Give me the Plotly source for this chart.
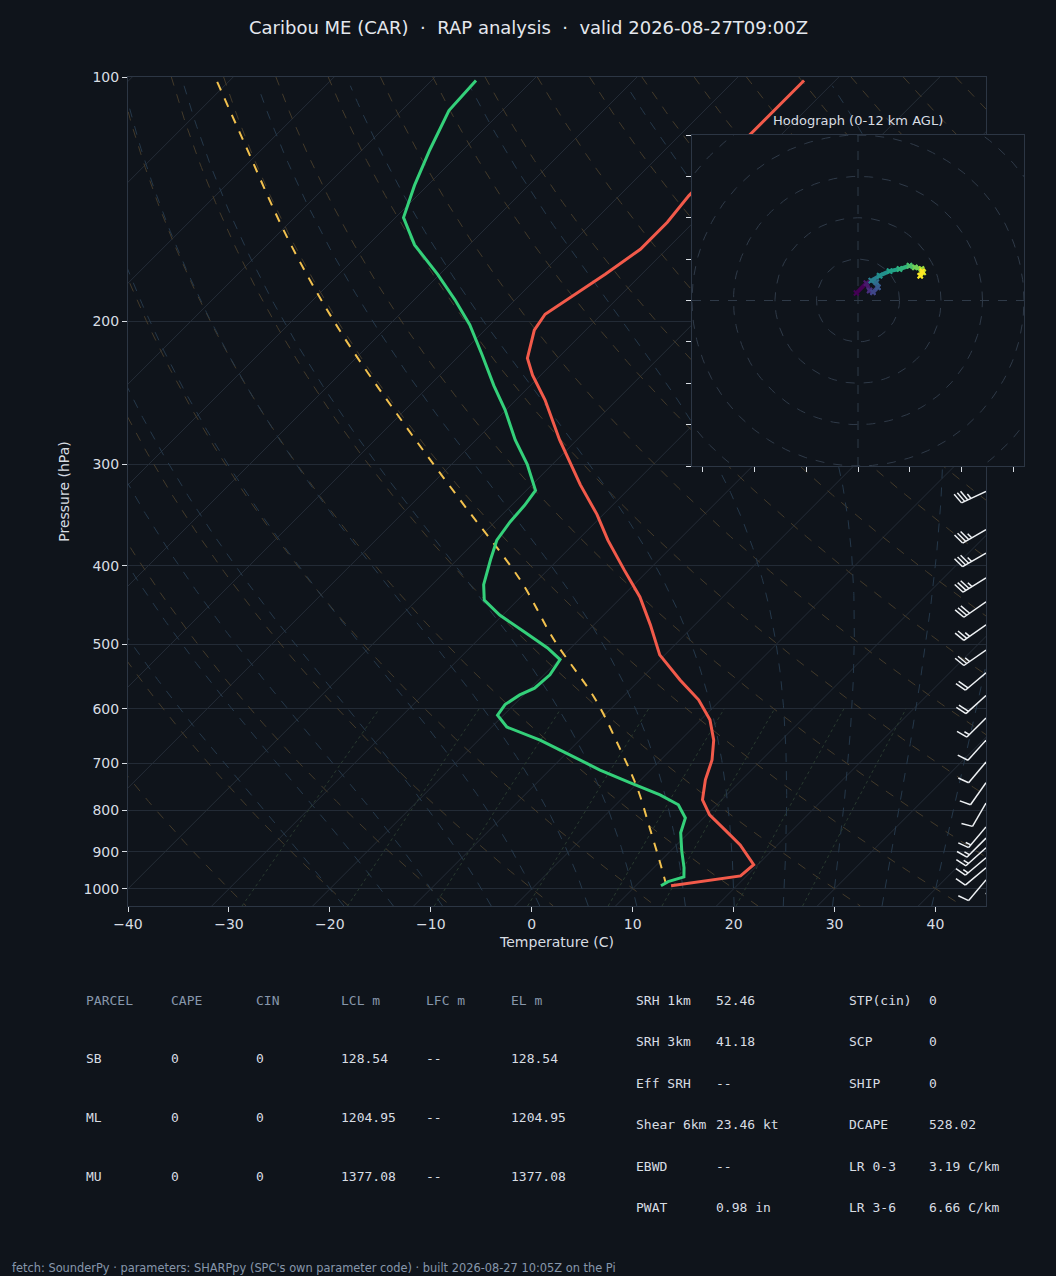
import numpy as np
import plotly.graph_objects as go
from plotly.colors import sample_colorscale

# ---------------- data ----------------
T_P = [101,140,151,163,175,196,205,222,233,250,280,318,346,372,405,437,473,515,553,585,619,656,694,734,777,811,846,883,934,964,991.5]
T_C = [-53.1,-53.1,-52.6,-52.6,-53.6,-55.6,-55.1,-53.0,-50.8,-47.1,-41.7,-35.2,-30.6,-27.0,-22.4,-18.2,-14.4,-10.5,-6.0,-2.2,0.9,3.3,5.1,6.4,8.1,10.3,13.3,16.3,19.6,19.4,13.5]
TD_P = [101,110,123,136,149,161,175,188,202,220,240,257,280,300,323,337,353,372,393,422,441,460,483,505,522,545,566,577,593,611,632,656,684,714,740,766,788,818,853,898,942,967,980,991.5]
TD_C = [-85.6,-85.3,-83.3,-81.3,-79.2,-75.4,-70.2,-66.0,-62.0,-57.8,-53.6,-50.1,-46.1,-42.5,-39.1,-38.7,-38.5,-38.0,-36.7,-34.9,-33.3,-30.3,-26.1,-22.3,-19.9,-19.4,-19.6,-20.4,-20.9,-20.6,-18.5,-13.9,-9.5,-5.0,-0.8,3.4,6.2,8.2,9.2,11.1,13.0,13.9,12.8,12.5]
PARCEL_P = [101.4,120,159,205,264,332,416,494,585,674,755,846,926,986]
PARCEL_C = [-111.1,-102.6,-88.3,-74.4,-59.5,-45.6,-31.8,-22.4,-12.4,-5.0,0.7,5.9,10.0,12.8]
WIND_P = [324,361,386,414,443,473,508,542,578,616,656,698,740,784,839,866,890,916,942,975,1011]
WIND_KT = [35,35,35,35,30,25,25,20,20,15,10,10,10,10,15,15,15,15,10,10,5]
WIND_DIR = [245,240,240,238,235,235,235,230,228,225,222,220,215,210,220,225,228,230,230,220,160]
HODO_U = [-0.4,2.0,2.8,3.6,4.8,4.4,3.2,5.2,7.6,10.0,12.4,13.7,15.3,15.7,15.0,15.5]
HODO_V = [1.8,4.2,2.4,2.0,3.2,4.4,4.8,6.0,7.1,7.6,8.4,8.0,7.6,6.8,6.0,7.1]
P_TICKS = [100,200,300,400,500,600,700,800,900,1000]
T_TICKS = [-40,-30,-20,-10,0,10,20,30,40]
TABLE_HEAD = ["PARCEL","CAPE","CIN","LCL m","LFC m","EL m"]
TABLE_ROWS = [["SB","0","0","128.54","--","128.54"],
              ["ML","0","0","1204.95","--","1204.95"],
              ["MU","0","0","1377.08","--","1377.08"]]
IDX_LEFT = [("SRH 1km","52.46"),("SRH 3km","41.18"),("Eff SRH","--"),("Shear 6km","23.46 kt"),("EBWD","--"),("PWAT","0.98 in")]
IDX_RIGHT = [("STP(cin)","0"),("SCP","0"),("SHIP","0"),("DCAPE","528.02"),("LR 0-3","3.19 C/km"),("LR 3-6","6.66 C/km")]

# ---------------- geometry ----------------
W, H = 1056, 1276
X0, X1, Y0, Y1 = 128, 986, 77, 906
XMIN, XMAX = -40, 45
PMIN, PMAX = 100, 1050
PXX = (X1 - X0) / (XMAX - XMIN)
PXY = (Y1 - Y0) / (np.log10(PMAX) - np.log10(PMIN))
SKEW = PXY / PXX

def skx(t, p):
    return np.asarray(t) + SKEW * np.log10(1000.0 / np.asarray(p))

BG = "#0f141b"
TXT = "#d8dde3"
DIM = "#8797ab"
AX = "#2c3644"

fig = go.Figure()
pp = np.logspace(np.log10(PMIN), np.log10(PMAX), 120)

# isotherms
for t in range(-130, 50, 10):
    fig.add_trace(go.Scatter(x=skx(t, pp), y=pp, mode="lines", line=dict(color="#252d38", width=1),
                             hoverinfo="skip", showlegend=False))
# dry adiabats
for th in range(-30, 231, 10):
    tk = (th + 273.15) * (pp / 1000.0) ** 0.2857 - 273.15
    fig.add_trace(go.Scatter(x=skx(tk, pp), y=pp, mode="lines", line=dict(color="#433a2a", width=1, dash="dash"),
                             hoverinfo="skip", showlegend=False))
# moist adiabats
def es(tc):
    return 6.112 * np.exp(17.67 * tc / (tc + 243.5))
def dtdp(T, p):
    e = es(T - 273.15)
    rs = 0.622 * e / max(p - e, 1.0)
    return (287 * T + 2.5e6 * rs) / (1005 + 2.5e6 ** 2 * rs * 0.622 / (287 * T ** 2)) / p
for t0 in range(-20, 45, 5):
    T = t0 + 273.15
    pcur = 1000.0
    while pcur < 1050:
        T += dtdp(T, pcur) * 2.5
        pcur += 2.5
    res_p, res_t = [], []
    while pcur > 100:
        res_p.append(pcur); res_t.append(T - 273.15)
        T -= dtdp(T, pcur) * 2.5
        pcur -= 2.5
    fig.add_trace(go.Scatter(x=skx(res_t, res_p), y=res_p, mode="lines", line=dict(color="#25384a", width=1, dash="dash"),
                             hoverinfo="skip", showlegend=False))
# mixing ratio lines
pm = np.linspace(1050, 600, 30)
for w in [0.4, 1, 2, 4, 7, 10, 16, 24]:
    e = pm * (w / 1000) / (0.622 + w / 1000)
    lt = np.log(e / 6.112)
    td = 243.5 * lt / (17.67 - lt)
    fig.add_trace(go.Scatter(x=skx(td, pm), y=pm, mode="lines", line=dict(color="#28392f", width=1, dash="dot"),
                             hoverinfo="skip", showlegend=False))

# profiles
fig.add_trace(go.Scatter(x=skx(PARCEL_C, PARCEL_P), y=PARCEL_P, mode="lines", line=dict(color="#f2c14e", width=2, dash="dash"),
                         line_shape="spline", showlegend=False))
fig.add_trace(go.Scatter(x=skx(T_C, T_P), y=T_P, mode="lines", line=dict(color="#f25a4a", width=3), showlegend=False))
fig.add_trace(go.Scatter(x=skx(TD_C, TD_P), y=TD_P, mode="lines", line=dict(color="#34d07a", width=3), showlegend=False))

# wind barbs
bx, by = [], []
def add_seg(p_base, a, b):
    for (dx, dy) in (a, b):
        bx.append(XMAX + dx / PXX)
        by.append(10 ** (np.log10(p_base) + dy / PXY))
    bx.append(None); by.append(None)
for p, spd, d in zip(WIND_P, WIND_KT, WIND_DIR):
    r = np.radians(d)
    u = np.array([np.sin(r), -np.cos(r)])
    n = np.array([-u[1], u[0]])
    L = 27.0
    add_seg(p, (0, 0), tuple(u * L))
    s = int(round(spd / 5.0)) * 5
    nfull, nhalf = s // 10, (s % 10) // 5
    pos = L
    for i in range(nfull):
        start = u * pos
        add_seg(p, tuple(start), tuple(start + n * 11 + u * 3))
        pos -= 3.5
    if nhalf:
        if nfull == 0:
            pos -= 3.5
        start = u * pos
        add_seg(p, tuple(start), tuple(start + n * 5.5 + u * 1.5))
fig.add_trace(go.Scatter(x=bx, y=by, mode="lines", line=dict(color="#eef1f4", width=1.5), cliponaxis=False,
                         hoverinfo="skip", showlegend=False))

# hodograph
th = np.linspace(0, 2 * np.pi, 200)
for rr in [10, 20, 30, 40, 50, 60]:
    fig.add_trace(go.Scatter(x=rr * np.cos(th), y=rr * np.sin(th), mode="lines", xaxis="x2", yaxis="y2",
                             line=dict(color="#2f3a48", width=1, dash="dash"), hoverinfo="skip", showlegend=False))
fig.add_trace(go.Scatter(x=[-40, 40, None, 0, 0], y=[0, 0, None, -40, 40], mode="lines", xaxis="x2", yaxis="y2",
                         line=dict(color="#2f3a48", width=1, dash="dash"), hoverinfo="skip", showlegend=False))
n = len(HODO_U)
cols = sample_colorscale("Viridis", list(np.linspace(0, 1, n - 1)))
for i in range(n - 1):
    fig.add_trace(go.Scatter(x=HODO_U[i:i + 2], y=HODO_V[i:i + 2], mode="lines+markers", xaxis="x2", yaxis="y2",
                             line=dict(color=cols[i], width=4), marker=dict(color=cols[i], size=5, symbol="x-thin",
                             line=dict(color=cols[i], width=2)), hoverinfo="skip", showlegend=False))

fig.update_layout(
    width=W, height=H, paper_bgcolor=BG, plot_bgcolor=BG,
    margin=dict(l=0, r=0, t=0, b=0, autoexpand=False),
    font=dict(family="DejaVu Sans", color=TXT, size=14),
    xaxis=dict(domain=[X0 / W, X1 / W], range=[XMIN, XMAX], tickvals=T_TICKS, automargin=False,
               ticktext=[("\u2212%d" % -t) if t < 0 else str(t) for t in T_TICKS],
               ticks="outside", ticklen=5, tickcolor=TXT, showgrid=False, zeroline=False,
               showline=True, linecolor=AX, mirror=True, anchor="y",
               title=dict(text="Temperature (C)", font=dict(size=14), standoff=6)),
    yaxis=dict(domain=[1 - Y1 / H, 1 - Y0 / H], type="log", range=[np.log10(PMAX), np.log10(PMIN)], automargin=False,
               tickvals=P_TICKS, ticktext=[str(p) for p in P_TICKS], ticks="outside", ticklen=5, tickcolor=TXT,
               showgrid=True, gridcolor="#232b36", zeroline=False, showline=True, linecolor=AX, mirror=True,
               anchor="x", title=dict(text="Pressure (hPa)", font=dict(size=14), standoff=10)),
    xaxis2=dict(domain=[692 / W, 1024 / W], range=[-40, 40], anchor="y2", showgrid=False, zeroline=False, automargin=False,
                tickvals=[-37.5, -25, -12.5, 0, 12.5, 25, 37.5], showticklabels=False, ticks="outside",
                ticklen=5, tickcolor=TXT, showline=True, linecolor=AX, mirror=True),
    yaxis2=dict(domain=[1 - 466 / H, 1 - 135 / H], range=[-40, 40], anchor="x2", showgrid=False, zeroline=False, automargin=False,
                tickvals=list(range(-40, 41, 10)), showticklabels=False, ticks="outside", ticklen=5,
                tickcolor=TXT, showline=True, linecolor=AX, mirror=True),
)
fig.add_shape(type="rect", xref="paper", yref="paper", x0=692 / W, x1=1024 / W, y0=1 - 466 / H, y1=1 - 135 / H,
              fillcolor=BG, line=dict(width=0), layer="below")

ann = []
def A(x, y, text, color=TXT, size=13, fam="DejaVu Sans Mono", xanchor="left"):
    ann.append(dict(x=x / W, y=1 - y / H, xref="paper", yref="paper", text=text, showarrow=False,
                    xanchor=xanchor, yanchor="middle", font=dict(family=fam, size=size, color=color)))
A(528, 27, "Caribou ME (CAR)  \u00b7  RAP analysis  \u00b7  valid 2026-08-27T09:00Z", size=18, fam="DejaVu Sans", xanchor="center", color="#e4e8ee")
A(858, 120, "Hodograph (0-12 km AGL)", size=13, fam="DejaVu Sans", xanchor="center")
colx = [84, 169, 254, 339, 424, 509]
for x, h in zip(colx, TABLE_HEAD):
    A(x, 1000, h, color=DIM)
for ry, row in zip([1058, 1117, 1176], TABLE_ROWS):
    for x, v in zip(colx, row):
        A(x, ry, v)
for ry, (k, v), (k2, v2) in zip([1000, 1041, 1083, 1124, 1166, 1207], IDX_LEFT, IDX_RIGHT):
    A(634, ry, k); A(714, ry, v); A(847, ry, k2); A(927, ry, v2)
A(10, 1268, "fetch: SounderPy \u00b7 parameters: SHARPpy (SPC's own parameter code) \u00b7 built 2026-08-27 10:05Z on the Pi",
  color=DIM, size=11.4, fam="DejaVu Sans")
fig.update_layout(annotations=ann)

fig.write_html("out.html", config={"displayModeBar": False},
               post_script="document.body.style.margin='0';document.body.style.overflow='hidden';document.body.style.background='#0f141b';")
